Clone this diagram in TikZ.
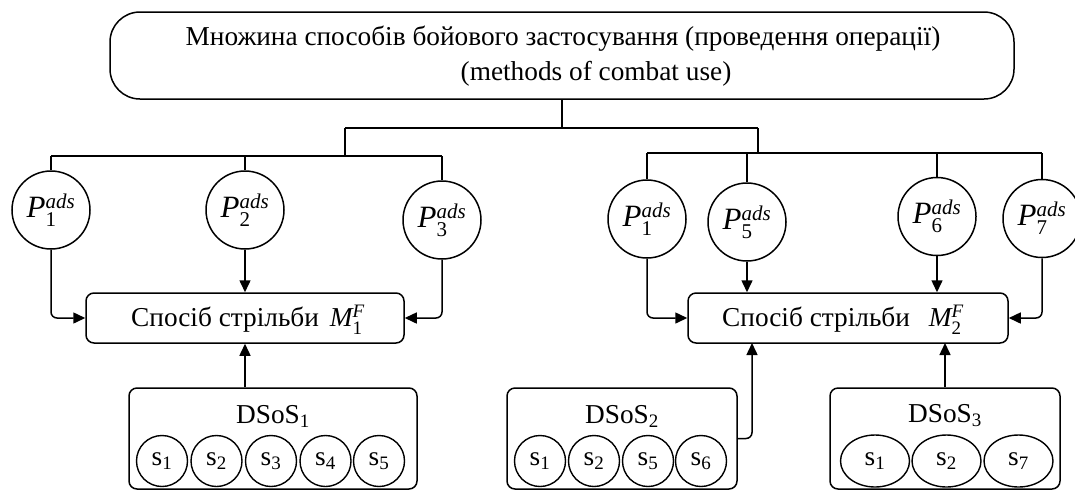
\documentclass[tikz,border=0pt]{standalone}
\usepackage{fontspec}
\usepackage{amsmath}
\setmainfont{Liberation Serif}
\usetikzlibrary{shapes.geometric,arrows.meta}
\DeclareMathSizes{31}{31}{21}{15}
\DeclareMathSizes{27.3}{27.3}{19}{14}
\newcommand\Pv[1]{{\itshape P}$^{\text{\itshape ads}}_{\text{#1}}$}
\newcommand\Sv[1]{s$_{\text{#1}}$}
\begin{document}
\begin{tikzpicture}[x=1pt,y=-1pt,
  every node/.style={font=\fontsize{27.3}{35}\selectfont, inner sep=0pt},
  ln/.style={line width=1.5pt},
  trunk/.style={line width=2.1pt},
  arr/.style={line width=1.5pt, -{Triangle[length=12pt,width=11pt]}, rounded corners=6pt},
  pc/.style={draw, line width=1.5pt, circle, minimum size=78pt, font=\fontsize{31}{31}\selectfont},
  rbox/.style={draw, line width=1.5pt, rounded corners=8pt},
  sc/.style={draw, line width=1.4pt, circle, minimum size=51pt},
  se/.style={draw, line width=1.4pt, ellipse, minimum width=69pt, minimum height=52pt},
]
\path[use as bounding box] (0,0) rectangle (1075,491);

% top box
\node[draw, line width=1.5pt, rounded corners=30pt, minimum width=904pt, minimum height=87pt] (top) at (562,55.5) {};
\node[anchor=base] (tl1) at (563,45) {Множина способів бойового застосування (проведення операції)};
\node[anchor=base] (tl2) at (596,80) {(methods of combat use)};

% junctions
\coordinate (jt) at (562,128);
\coordinate (jl) at (345,128);
\coordinate (jr) at (758,128);
\coordinate (jl2) at (345,156);
\coordinate (jr2) at (758,153);

% parameter circles left
\node[pc] (pa1) at (51,210) {\Pv{1}};
\node[pc] (pa2) at (245,210) {\Pv{2}};
\node[pc] (pa3) at (442,220) {\Pv{3}};
% parameter circles right
\node[pc] (pb1) at (647,219) {\Pv{1}};
\node[pc] (pb5) at (747,222) {\Pv{5}};
\node[pc] (pb6) at (937,216.5) {\Pv{6}};
\node[pc] (pb7) at (1042,218.5) {\Pv{7}};

% method boxes
\node[rbox, minimum width=318pt, minimum height=50pt] (m1) at (245,318) {};
\node (t1) at (248,320) {Спосіб стрільби\hspace{11pt}{\itshape M}$^{\text{\itshape F}}_{\text{1}}$};
\node[rbox, minimum width=320pt, minimum height=50pt] (m2) at (848,318) {};
\node (t2) at (843,320) {Спосіб стрільби\hspace{19pt}{\itshape M}$^{\text{\itshape F}}_{\text{2}}$};

% DSoS boxes
\node[rbox, minimum width=288pt, minimum height=101pt] (d1) at (273,438.5) {};
\node[rbox, minimum width=230pt, minimum height=101pt] (d2) at (622,438.5) {};
\node[rbox, minimum width=230pt, minimum height=101pt] (d3) at (945,438.5) {};
\node (l1) at (273,416) {DSoS$_{\text{1}}$};
\node (l2) at (622,416) {DSoS$_{\text{2}}$};
\node (l3) at (945,416) {DSoS$_{\text{3}}$};

\node[sc] (a1) at (162,461) {\Sv{1}};
\node[sc] (a2) at (216.5,461) {\Sv{2}};
\node[sc] (a3) at (271,461) {\Sv{3}};
\node[sc] (a4) at (325.5,461) {\Sv{4}};
\node[sc] (a5) at (379,461) {\Sv{5}};

\node[sc] (b1) at (540,461) {\Sv{1}};
\node[sc] (b2) at (594,461) {\Sv{2}};
\node[sc] (b5) at (648,461) {\Sv{5}};
\node[sc] (b6) at (701,461) {\Sv{6}};

\node[se] (c1) at (875,461) {\Sv{1}};
\node[se] (c2) at (946.5,461) {\Sv{2}};
\node[se] (c7) at (1018.5,461) {\Sv{7}};

% tree connectors
\draw[trunk] (top.south) -- (jt);
\draw[trunk] (jl) -- (jr);
\draw[trunk] (jl) -- (jl2);
\draw[trunk] (jr) -- (jr2);
\draw[ln] (pa1 |- jl2) -- (pa3 |- jl2);
\draw[trunk] (pa1 |- jl2) -- (jl2);
\draw[ln] (pa1 |- jl2) -- (pa1.north);
\draw[ln] (pa2 |- jl2) -- (pa2.north);
\draw[ln] (pa3 |- jl2) -- (pa3.north);
\draw[ln] (pb1 |- jr2) -- (pb7 |- jr2);
\draw[trunk] (pb1 |- jr2) -- (jr2);
\draw[ln] (pb1 |- jr2) -- (pb1.north);
\draw[ln] (pb5 |- jr2) -- (pb5.north);
\draw[ln] (pb6 |- jr2) -- (pb6.north);
\draw[ln] (pb7 |- jr2) -- (pb7.north);

% arrows into method 1
\draw[arr] (pa1.south) |- (m1.west);
\draw[arr] (pa2.south) -- (pa2.south |- m1.north);
\draw[arr] (pa3.south) |- (m1.east);
\draw[arr] (m1.south |- d1.north) -- (m1.south);

% arrows into method 2
\coordinate (m2in1) at (752,343);
\coordinate (m2in2) at (945,343);
\draw[arr] (pb1.south) |- (m2.west);
\draw[arr] (pb5.south) -- (pb5.south |- m2.north);
\draw[arr] (pb6.south) -- (pb6.south |- m2.north);
\draw[arr] (pb7.south) |- (m2.east);
\draw[arr] (d2.east) -| (m2in1);
\draw[arr] (d3.north) -- (m2in2);
\end{tikzpicture}
\end{document}
